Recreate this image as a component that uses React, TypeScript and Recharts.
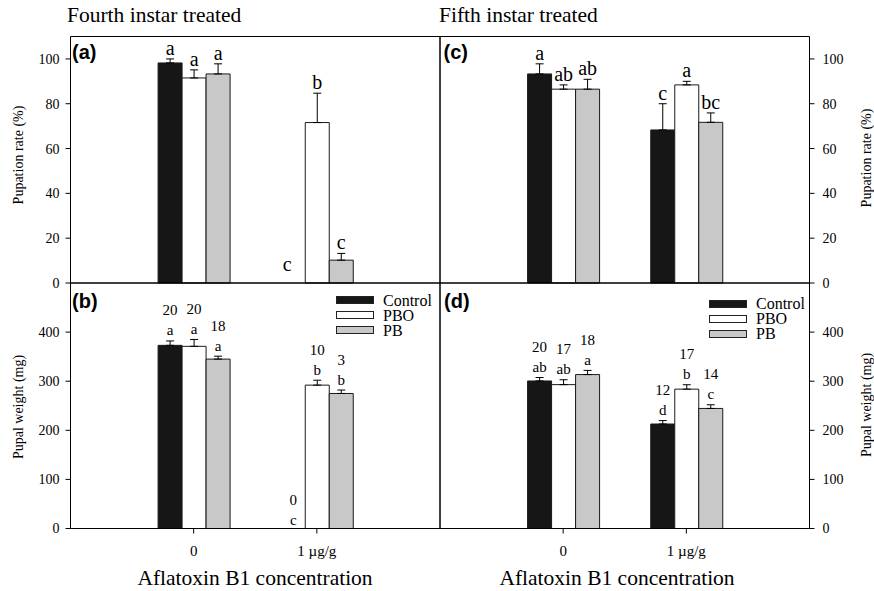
import React from "react";
import { BarChart, Bar, XAxis, YAxis, ErrorBar, LabelList, Legend } from "recharts";

const W = 874;
const H = 591;
const SERIF = '"Liberation Serif", "Times New Roman", serif';
const SANS = '"Liberation Sans", Arial, sans-serif';

const concentrations = ["0", "1 µg/g"];
const seriesNames = ["Control", "PBO", "PB"];
const seriesFills = ["#161616", "#ffffff", "#c8c8c8"];

// (a) pupation rate (%), fourth instar treated
const rate4Control = [98.2, 0];
const rate4ControlSe = [1.8, 0];
const rate4Pbo = [91.5, 71.6];
const rate4PboSe = [3.6, 13.1];
const rate4Pb = [93.3, 10.2];
const rate4PbSe = [4.5, 3];
const rate4Letters = [
  ["a", "a", "a"],
  ["c", "b", "c"],
];

// (c) pupation rate (%), fifth instar treated
const rate5Control = [93.3, 68.3];
const rate5ControlSe = [4.5, 11.7];
const rate5Pbo = [86.5, 88.4];
const rate5PboSe = [1.9, 1.6];
const rate5Pb = [86.5, 71.7];
const rate5PbSe = [4.4, 4.2];
const rate5Letters = [
  ["a", "ab", "ab"],
  ["c", "a", "bc"],
];

// (b) pupal weight (mg), fourth instar treated
const weight4Control = [373, 0];
const weight4ControlSe = [9, 0];
const weight4Pbo = [371, 292];
const weight4PboSe = [14, 10];
const weight4Pb = [345, 275];
const weight4PbSe = [6, 7];
const weight4Letters = [
  ["a", "a", "a"],
  ["c", "b", "b"],
];
const weight4N = [
  ["20", "20", "18"],
  ["0", "10", "3"],
];

// (d) pupal weight (mg), fifth instar treated
const weight5Control = [300.5, 212.8];
const weight5ControlSe = [7, 7];
const weight5Pbo = [293, 283.8];
const weight5PboSe = [10, 9];
const weight5Pb = [313.5, 244.5];
const weight5PbSe = [8.5, 7.5];
const weight5Letters = [
  ["ab", "ab", "a"],
  ["d", "b", "c"],
];
const weight5N = [
  ["20", "17", "18"],
  ["12", "17", "14"],
];

const rateTicks = [0, 20, 40, 60, 80, 100];
const weightTicks = [0, 100, 200, 300, 400];

const keys = ["control", "pbo", "pb"];

function buildRows(
  values: number[][],
  errs: number[][],
  letters: string[][],
  ns?: string[][]
) {
  return concentrations.map((name, i) => {
    const row: any = { name };
    keys.forEach((k, s) => {
      row[k] = values[s][i];
      row[k + "Err"] = [0, errs[s][i]];
      row[k + "Letter"] = letters[i][s];
      row[k + "N"] = ns ? ns[i][s] : "";
    });
    return row;
  });
}

const rowsA = buildRows(
  [rate4Control, rate4Pbo, rate4Pb],
  [rate4ControlSe, rate4PboSe, rate4PbSe],
  rate4Letters
);
const rowsC = buildRows(
  [rate5Control, rate5Pbo, rate5Pb],
  [rate5ControlSe, rate5PboSe, rate5PbSe],
  rate5Letters
);
const rowsB = buildRows(
  [weight4Control, weight4Pbo, weight4Pb],
  [weight4ControlSe, weight4PboSe, weight4PbSe],
  weight4Letters,
  weight4N
);
const rowsD = buildRows(
  [weight5Control, weight5Pbo, weight5Pb],
  [weight5ControlSe, weight5PboSe, weight5PbSe],
  weight5Letters,
  weight5N
);

interface PanelProps {
  rows: any[];
  left: number;
  top: number;
  right: number;
  bottom: number;
  yMax: number;
  ticks: number[];
  side: "left" | "right";
  xLabels: boolean;
  small: boolean;
  legendPos?: { left: number; top: number };
}

function renderLegend(props: any) {
  const payload = [...(props.payload || [])].sort(
    (a: any, b: any) => seriesNames.indexOf(a.value) - seriesNames.indexOf(b.value)
  );
  return (
    <div style={{ fontFamily: SERIF, fontSize: 16, color: "#000" }}>
      {payload.map((e: any) => (
        <div
          key={e.value}
          style={{ display: "flex", alignItems: "center", height: 15, lineHeight: "15px" }}
        >
          <span
            style={{
              display: "inline-block",
              width: 38,
              height: 8,
              background: e.color,
              border: "1px solid #222",
              boxSizing: "border-box",
              marginRight: 9,
            }}
          />
          <span>{e.value}</span>
        </div>
      ))}
    </div>
  );
}

function Panel({
  rows,
  left,
  top,
  right,
  bottom,
  yMax,
  ticks,
  side,
  xLabels,
  small,
  legendPos,
}: PanelProps) {
  const plotW = right - left;
  const pxPerUnit = (bottom - top) / yMax;
  const other = side === "left" ? "right" : "left";

  // text drawn above one bar (its error cap)
  const drawLabel = (row: any, key: string, x: number, barTop: number, id: string) => {
    const err = row[key + "Err"][1];
    const cap = barTop - err * pxPerUnit;
    if (!small) {
      const base = row[key] === 0 ? cap - 12 : cap - 4;
      return (
        <text key={id} x={row[key] === 0 ? x - 6 : x} y={base} textAnchor="middle" fontFamily={SERIF} fontSize={20} fill="#000">
          {row[key + "Letter"]}
        </text>
      );
    }
    const base = row[key] === 0 ? cap - 3.5 : cap - 5.5;
    return (
      <g key={id}>
        <text x={x} y={base} textAnchor="middle" fontFamily={SERIF} fontSize={15} fill="#000">
          {row[key + "Letter"]}
        </text>
        <text x={x} y={base - 20} textAnchor="middle" fontFamily={SERIF} fontSize={15} fill="#000">
          {row[key + "N"]}
        </text>
      </g>
    );
  };

  const labelFor = (key: string, s: number) => (p: any) => {
    const vb = p.viewBox || p;
    const row = rows[p.index];
    if (!row) return null;
    const x = vb.x + vb.width / 2;
    const out = [drawLabel(row, key, x, vb.y, key)];
    // zero-height neighbour bars get no label of their own: draw them from here
    if (key === "pbo") {
      [-1, 1].forEach((d) => {
        const nk = keys[s + d];
        if (nk && row[nk] === 0) {
          out.push(drawLabel(row, nk, x + d * vb.width, vb.y + vb.height, nk));
        }
      });
    }
    return <g>{out}</g>;
  };

  return (
    <div style={{ position: "absolute", left: 0, top: 0, width: W, height: H }}>
      <BarChart
        width={W}
        height={H}
        data={rows}
        margin={{ top: top - 1, left: left - 1, right: W - right - 1, bottom: H - bottom - 1 }}
        barSize={24}
        barGap={0}
      >
        <XAxis
          dataKey="name"
          height={1}
          padding={{ left: plotW / 6, right: plotW / 6 }}
          axisLine={{ stroke: "#000" }}
          tickLine={{ stroke: "#000" }}
          tickSize={5}
          tickMargin={12}
          tick={xLabels ? { fill: "#000", fontSize: 15, fontFamily: SERIF } : false}
        />
        <XAxis
          xAxisId="frame"
          dataKey="name"
          orientation="top"
          height={1}
          axisLine={{ stroke: "#000" }}
          tickLine={false}
          tick={false}
        />
        <YAxis
          orientation={side}
          width={1}
          domain={[0, yMax]}
          ticks={ticks}
          interval={0}
          axisLine={{ stroke: "#000" }}
          tickLine={{ stroke: "#000" }}
          tickSize={5}
          tickMargin={side === "left" ? 6 : 8}
          tick={{ fill: "#000", fontSize: 14, fontFamily: SERIF }}
        />
        <YAxis
          yAxisId="frame"
          orientation={other}
          width={1}
          domain={[0, yMax]}
          axisLine={{ stroke: "#000" }}
          tickLine={false}
          tick={false}
        />
        {keys.map((k, s) => (
          <Bar
            key={k}
            dataKey={k}
            name={seriesNames[s]}
            fill={seriesFills[s]}
            stroke="#1a1a1a"
            strokeWidth={1}
            isAnimationActive={false}
          >
            <ErrorBar
              dataKey={k + "Err"}
              direction="y"
              width={4}
              stroke="#000"
              strokeWidth={1}
              isAnimationActive={false}
            />
            <LabelList dataKey={k + "Letter"} content={labelFor(k, s)} />
          </Bar>
        ))}
        {legendPos && (
          <Legend
            layout="vertical"
            align="center"
            verticalAlign="middle"
            content={renderLegend}
            wrapperStyle={{ left: legendPos.left, top: legendPos.top, width: "auto" }}
          />
        )}
      </BarChart>
    </div>
  );
}

export default function App() {
  return (
    <div
      style={{
        position: "absolute",
        left: 0,
        top: 0,
        width: W,
        height: H,
        background: "#fff",
        overflow: "hidden",
      }}
    >
      <Panel rows={rowsA} left={70.5} top={36.5} right={440} bottom={283} yMax={110} ticks={rateTicks} side="left" xLabels={false} small={false} />
      <Panel rows={rowsC} left={440} top={36.5} right={809.5} bottom={283} yMax={110} ticks={rateTicks} side="right" xLabels={false} small={false} />
      <Panel rows={rowsB} left={70.5} top={283} right={440} bottom={528.5} yMax={500} ticks={weightTicks} side="left" xLabels={true} small={true} legendPos={{ left: 336, top: 292.5 }} />
      <Panel rows={rowsD} left={440} top={283} right={809.5} bottom={528.5} yMax={500} ticks={weightTicks} side="right" xLabels={true} small={true} legendPos={{ left: 709, top: 296 }} />
      <svg
        width={W}
        height={H}
        style={{ position: "absolute", left: 0, top: 0, pointerEvents: "none" }}
      >
        <g fontFamily={SERIF} fill="#000">
          <text x={67} y={22} fontSize={21.5}>Fourth instar treated</text>
          <text x={439} y={22} fontSize={21.5}>Fifth instar treated</text>
          <text x={255} y={585} fontSize={21.5} textAnchor="middle">Aflatoxin B1 concentration</text>
          <text x={617} y={585} fontSize={21.5} textAnchor="middle">Aflatoxin B1 concentration</text>
          <text x={18} y={155} fontSize={14} textAnchor="middle" dominantBaseline="central" transform="rotate(-90 18 155)">Pupation rate (%)</text>
          <text x={18} y={407} fontSize={14} textAnchor="middle" dominantBaseline="central" transform="rotate(-90 18 407)">Pupal weight (mg)</text>
          <text x={866} y={158} fontSize={14} textAnchor="middle" dominantBaseline="central" transform="rotate(-90 866 158)">Pupation rate (%)</text>
          <text x={866} y={405} fontSize={14} textAnchor="middle" dominantBaseline="central" transform="rotate(-90 866 405)">Pupal weight (mg)</text>
        </g>
        <g fontFamily={SANS} fontWeight="bold" fontSize={20} fill="#000">
          <text x={72} y={59}>(a)</text>
          <text x={443.5} y={59}>(c)</text>
          <text x={72} y={308}>(b)</text>
          <text x={444} y={308}>(d)</text>
        </g>
      </svg>
    </div>
  );
}
